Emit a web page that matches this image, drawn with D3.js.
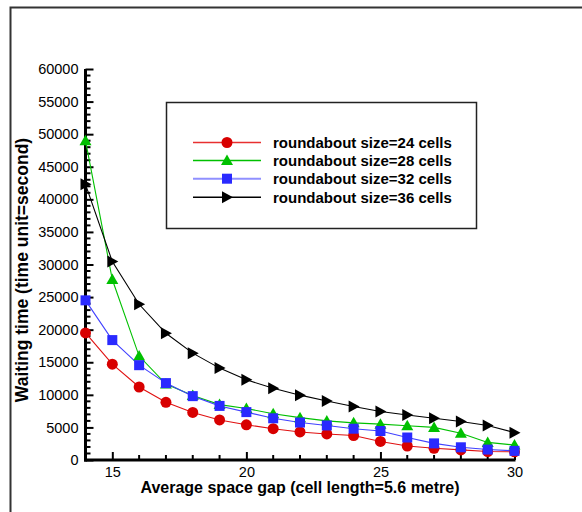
<!DOCTYPE html>
<html><head><meta charset="utf-8">
<script src="https://cdn.jsdelivr.net/npm/d3@7"></script>
<style>body{margin:0;background:#fff}svg{display:block}</style>
</head><body>
<svg id="chart" width="582" height="512"></svg>
<script>
const xValues = [14,15,16,17,18,19,20,21,22,23,24,25,26,27,28,29,30];
const size24 = [19500,14700,11200,8850,7300,6150,5400,4800,4300,4000,3750,2850,2150,1800,1550,1300,1250];
const size28 = [49000,27700,15950,11650,9900,8500,7900,7100,6500,6000,5700,5500,5250,5000,4100,2700,2300];
const size32 = [24500,18400,14550,11800,9800,8300,7350,6400,5750,5300,4800,4450,3450,2550,1950,1600,1400];
const size36 = [42300,30450,23900,19450,16400,14100,12300,11000,9950,9050,8200,7450,6900,6400,5900,5300,4200];
const seriesNames = ["roundabout size=24 cells","roundabout size=28 cells","roundabout size=32 cells","roundabout size=36 cells"];
const yTicks = [0,5000,10000,15000,20000,25000,30000,35000,40000,45000,50000,55000,60000];
const xTicks = [15,20,25,30];
const xTitle = "Average space gap (cell length=5.6 metre)";
const yTitle = "Waiting time (time unit=second)";

const styles = [
  {line:"#e01010", fill:"#d80000", marker:"circle", legendLine:"#e83030"},
  {line:"#00c000", fill:"#00c000", marker:"triangle", legendLine:"#00c000"},
  {line:"#4040ff", fill:"#2a2aff", marker:"square", legendLine:"#9090ff"},
  {line:"#000000", fill:"#000000", marker:"right", legendLine:"#000000"}
];
const seriesData = [size24,size28,size32,size36];

const svg = d3.select("#chart");
const font = "Liberation Sans, Arial, sans-serif";

// outer frame
svg.append("rect").attr("x",10.5).attr("y",7.5).attr("width",620).attr("height",540)
  .attr("fill","none").attr("stroke","#333").attr("stroke-width",2);

const x = d3.scaleLinear().domain([14,30]).range([85.5,514.5]);
const y = d3.scaleLinear().domain([0,60000]).range([460,69]);

// minor ticks
const g = svg.append("g");
d3.range(1000,60001,1000).filter(v=>v%5000!==0).forEach(v=>{
  g.append("line").attr("x1",x(14)).attr("x2",x(14)+5).attr("y1",y(v)).attr("y2",y(v)).attr("stroke","#000").attr("stroke-width",2);
});
d3.range(16,30,1).filter(v=>v%5!==0).forEach(v=>{
  g.append("line").attr("x1",x(v)).attr("x2",x(v)).attr("y1",y(0)).attr("y2",y(0)-5).attr("stroke","#000").attr("stroke-width",2);
});

// axes via d3
const yAxis = d3.axisRight(y).tickValues(yTicks).tickSize(8).tickFormat(d3.format("d"));
const ya = svg.append("g").attr("transform",`translate(${x(14)},0)`).call(yAxis);
ya.select(".domain").remove();
ya.selectAll("line").attr("stroke","#000").attr("stroke-width",2);
ya.selectAll("text").attr("x",-7).attr("text-anchor","end").attr("font-family",font).attr("font-size",14.5).attr("fill","#000");

const xAxis = d3.axisTop(x).tickValues(xTicks).tickSize(8).tickFormat(d3.format("d"));
const xa = svg.append("g").attr("transform",`translate(0,${y(0)})`).call(xAxis);
xa.select(".domain").remove();
xa.selectAll("line").attr("stroke","#000").attr("stroke-width",2);
xa.selectAll("text").attr("y",17).attr("dy","0").attr("font-family",font).attr("font-size",14.5).attr("fill","#000");

// axis lines
svg.append("line").attr("x1",x(14)).attr("x2",x(14)).attr("y1",y(60000)).attr("y2",y(0)+1.5).attr("stroke","#000").attr("stroke-width",3);
svg.append("line").attr("x1",x(14)-1.5).attr("x2",x(30)+1).attr("y1",y(0)).attr("y2",y(0)).attr("stroke","#000").attr("stroke-width",3);

// titles
svg.append("text").attr("x",300).attr("y",493).attr("text-anchor","middle").attr("font-family",font)
  .attr("font-weight","bold").attr("font-size",16).text(xTitle);
svg.append("text").attr("transform","translate(28,270) rotate(-90)").attr("text-anchor","middle").attr("font-family",font)
  .attr("font-weight","bold").attr("font-size",17.5).text(yTitle);

function drawMarker(sel, type, cx, cy, fill){
  if(type==="circle") sel.append("circle").attr("cx",cx).attr("cy",cy).attr("r",5.5).attr("fill",fill);
  else if(type==="square") sel.append("rect").attr("x",cx-5).attr("y",cy-5).attr("width",10).attr("height",10).attr("fill",fill);
  else if(type==="triangle") sel.append("path").attr("d",`M${cx},${cy-6}L${cx+6},${cy+4.5}L${cx-6},${cy+4.5}Z`).attr("fill",fill);
  else if(type==="right") sel.append("path").attr("d",`M${cx+6},${cy}L${cx-5},${cy-6}L${cx-5},${cy+6}Z`).attr("fill",fill);
}

const line = d3.line().x((d,i)=>x(xValues[i])).y(d=>y(d));
seriesData.forEach((s,k)=>{
  svg.append("path").attr("d",line(s)).attr("fill","none").attr("stroke",styles[k].line).attr("stroke-width",1.1);
});
seriesData.forEach((s,k)=>{
  const gs = svg.append("g");
  s.forEach((v,i)=>drawMarker(gs, styles[k].marker, x(xValues[i]), y(v), styles[k].fill));
});

// legend
const lg = svg.append("g");
lg.append("rect").attr("x",166.5).attr("y",102.5).attr("width",310).attr("height",126)
  .attr("fill","#fff").attr("stroke","#222").attr("stroke-width",1.5);
const rowsY = [142.5,160.5,178.7,197.3];
seriesNames.forEach((n,k)=>{
  lg.append("line").attr("x1",193).attr("x2",261).attr("y1",rowsY[k]).attr("y2",rowsY[k])
    .attr("stroke",styles[k].legendLine).attr("stroke-width",k===2?2:1.5);
  drawMarker(lg, styles[k].marker, 227, rowsY[k], styles[k].fill);
  lg.append("text").attr("x",273).attr("y",rowsY[k]).attr("dy","0.35em").attr("font-family",font)
    .attr("font-weight","bold").attr("font-size",15).text(n);
});
</script>
</body></html>
